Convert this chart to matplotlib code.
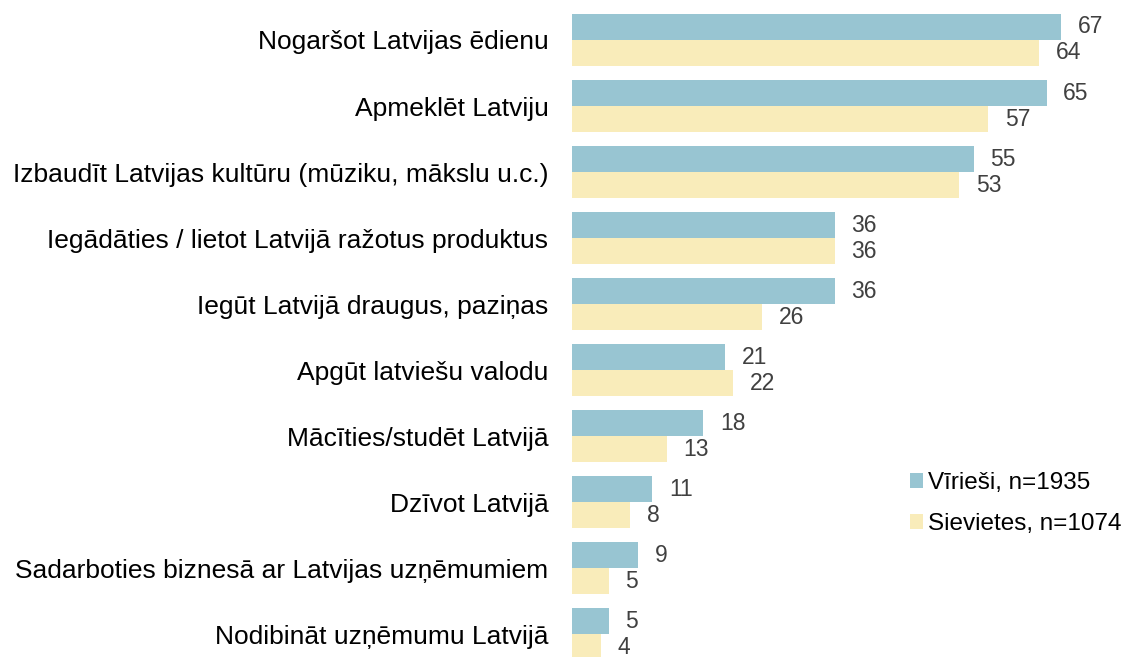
import numpy as np
import matplotlib.pyplot as plt

plt.rcParams['font.family'] = ['Liberation Sans', 'DejaVu Sans']

categories = [
    'Nogaršot Latvijas ēdienu',
    'Apmeklēt Latviju',
    'Izbaudīt Latvijas kultūru (mūziku, mākslu u.c.)',
    'Iegādāties / lietot Latvijā ražotus produktus',
    'Iegūt Latvijā draugus, paziņas',
    'Apgūt latviešu valodu',
    'Mācīties/studēt Latvijā',
    'Dzīvot Latvijā',
    'Sadarboties biznesā ar Latvijas uzņēmumiem',
    'Nodibināt uzņēmumu Latvijā',
]
men = [67, 65, 55, 36, 36, 21, 18, 11, 9, 5]
women = [64, 57, 53, 36, 26, 22, 13, 8, 5, 4]
series_names = ['Vīrieši, n=1935', 'Sievietes, n=1074']
colors = ['#98c5d2', '#f9ecba']

fig = plt.figure(figsize=(11.22, 6.57), dpi=100)
ax = fig.add_axes([572 / 1122, 0, 548 / 1122, 1])

y = np.arange(len(categories))
h = 26 / 66
ax.barh(y - h / 2, men, height=h, color=colors[0], label=series_names[0])
ax.barh(y + h / 2, women, height=h, color=colors[1], label=series_names[1])

for yi, v in zip(y, men):
    ax.text(v + 2.3, yi - h / 2, str(v), va='center', ha='left', fontsize=16.5, color='#404040')
for yi, v in zip(y, women):
    ax.text(v + 2.3, yi + h / 2, str(v), va='center', ha='left', fontsize=16.5, color='#404040')

ax.set_xlim(0, 548 / 7.3)
ax.set_ylim(9.348, -0.606)
ax.set_yticks(y)
ax.set_yticklabels(categories, fontsize=19)
ax.tick_params(axis='y', length=0, pad=17)
ax.set_xticks([])
for s in ax.spines.values():
    s.set_visible(False)

ax.legend(loc='upper left', bbox_to_anchor=(910 / 1122, 1 - 472 / 657), bbox_transform=fig.transFigure,
          frameon=False, fontsize=17.5, handlelength=0.55, handleheight=0.55, handletextpad=0.2,
          labelspacing=0.78, borderaxespad=0, borderpad=0)

fig.savefig('out.png', dpi=100)
